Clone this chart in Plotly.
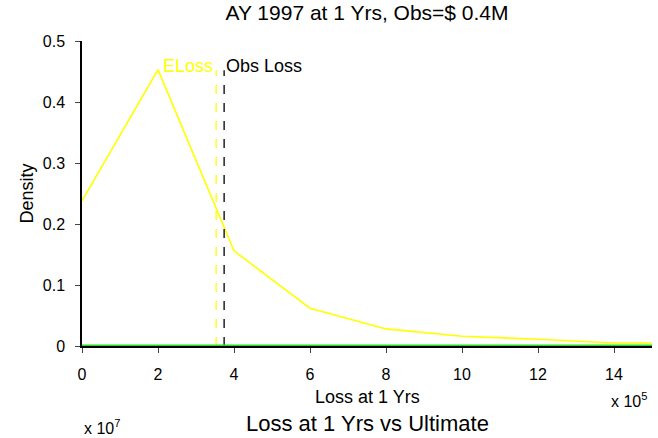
import plotly.graph_objects as go

# Loss values in units of 1e5
loss_x = [0, 2, 4, 6, 8, 10, 12, 14, 15]
density = [0.238, 0.453, 0.156, 0.062, 0.028, 0.016, 0.011, 0.005, 0.005]
zero_x = [0, 15]
zero_y = [0, 0]
eloss_x = 3.53
obs_x = 3.74
vline_top = 0.452
x_ticks = [0, 2, 4, 6, 8, 10, 12, 14]
y_ticks = [0, 0.1, 0.2, 0.3, 0.4, 0.5]
y_tick_labels = ["0", "0.1", "0.2", "0.3", "0.4", "0.5"]

FONT = "Liberation Sans, Arial, sans-serif"

fig = go.Figure()
fig.add_trace(go.Scatter(x=loss_x, y=density, mode="lines",
                         line=dict(color="#ffff00", width=1.6), showlegend=False))
fig.add_trace(go.Scatter(x=[eloss_x, eloss_x], y=[0, vline_top], mode="lines",
                         line=dict(color="#ffff00", width=1.3, dash="dash"), showlegend=False))
fig.add_trace(go.Scatter(x=[obs_x, obs_x], y=[0, vline_top], mode="lines",
                         line=dict(color="black", width=1.3, dash="dash"), showlegend=False))
fig.add_trace(go.Scatter(x=zero_x, y=zero_y, mode="lines",
                         line=dict(color="#22dd22", width=3), showlegend=False, cliponaxis=False))

fig.add_annotation(x=eloss_x, y=vline_top, text="ELoss", showarrow=False,
                   xanchor="right", yanchor="middle", xshift=-1, yshift=4,
                   font=dict(family=FONT, size=18, color="#ffff00"))
fig.add_annotation(x=obs_x, y=vline_top, text="Obs Loss", showarrow=False,
                   xanchor="left", yanchor="middle", xshift=0, yshift=4,
                   font=dict(family=FONT, size=18, color="black"))

fig.add_annotation(x=0.5, y=0, xref="paper", yref="paper", text="Loss at 1 Yrs",
                   showarrow=False, xanchor="center", yanchor="middle", yshift=-51,
                   font=dict(family=FONT, size=18, color="black"))
fig.add_annotation(x=0, y=0.5, xref="paper", yref="paper", text="Density", textangle=-90,
                   showarrow=False, xanchor="center", yanchor="middle", xshift=-56,
                   font=dict(family=FONT, size=18, color="black"))
fig.add_annotation(x=1, y=0, xref="paper", yref="paper", text="x 10<sup>5</sup>",
                   showarrow=False, xanchor="right", yanchor="middle", yshift=-54, xshift=-3,
                   font=dict(family=FONT, size=16, color="black"))
fig.add_annotation(x=0, y=0, xref="paper", yref="paper", text="x 10<sup>7</sup>",
                   showarrow=False, xanchor="left", yanchor="middle", yshift=-81,
                   font=dict(family=FONT, size=16, color="black"))
fig.add_annotation(x=0.5, y=0, xref="paper", yref="paper", text="Loss at 1 Yrs vs Ultimate",
                   showarrow=False, xanchor="center", yanchor="middle", yshift=-77,
                   font=dict(family=FONT, size=22, color="black"))

fig.update_layout(
    width=658, height=438,
    margin=dict(l=82, r=6, t=41, b=92),
    paper_bgcolor="white", plot_bgcolor="white",
    font=dict(family=FONT, size=16, color="black"),
    title=dict(text="AY 1997 at 1 Yrs, Obs=$ 0.4M", x=0.5, xref="paper",
               xanchor="center", y=1 - 13 / 438, yref="container", yanchor="middle",
               font=dict(family=FONT, size=21, color="black")),
    xaxis=dict(range=[0, 15], tickvals=x_ticks, ticks="outside", ticklen=5,
               showline=True, linecolor="black", linewidth=1.5, showgrid=False,
               zeroline=False, tickfont=dict(size=16), ticklabelstandoff=8),
    yaxis=dict(range=[0, 0.5], tickvals=y_ticks, ticktext=y_tick_labels,
               ticks="outside", ticklen=5, showline=True, linecolor="black",
               linewidth=1.5, showgrid=False, zeroline=False, tickfont=dict(size=16),
               ticklabelstandoff=7),
)

fig.write_html("out.html")
